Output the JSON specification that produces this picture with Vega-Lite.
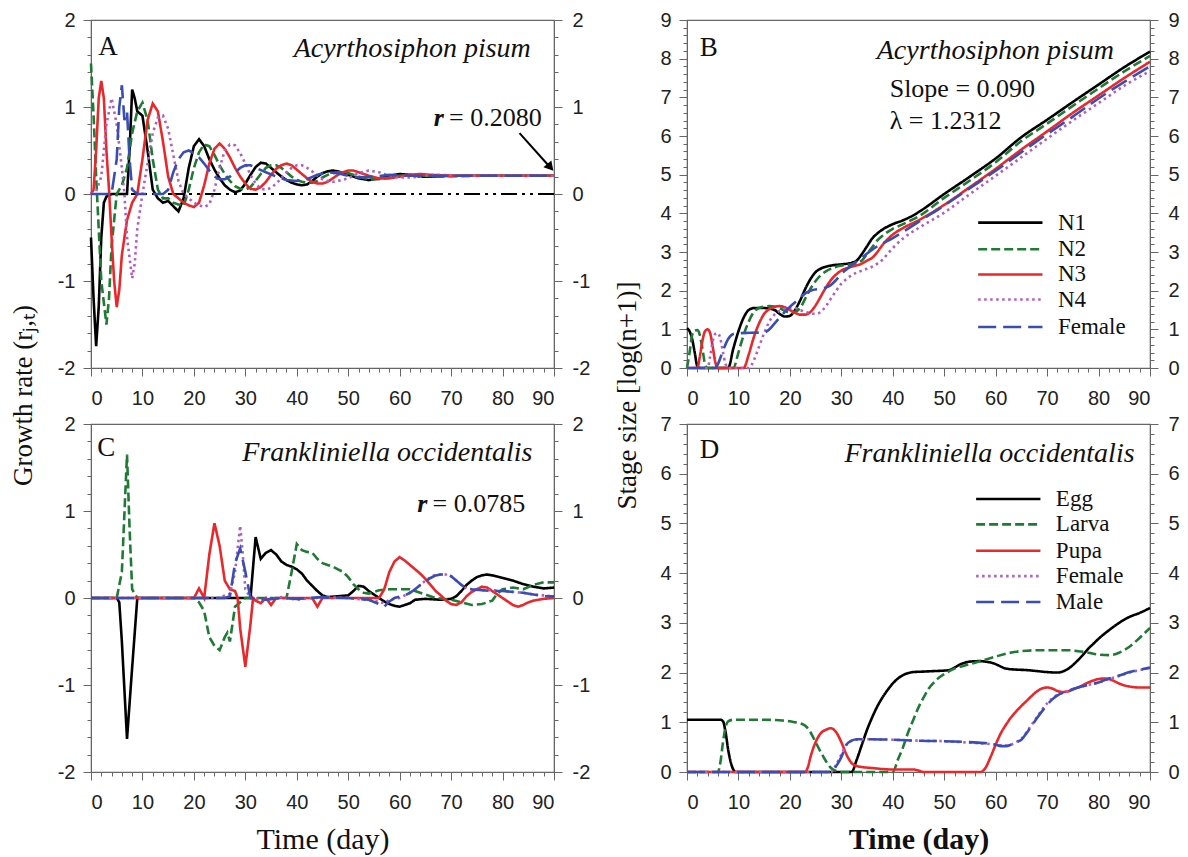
{
"$schema":"https://vega.github.io/schema/vega-lite/v6.json",
"background":"white",
"padding":{"left":8,"top":9,"right":5,"bottom":5},
"bounds":"flush",
"columns":2,
"spacing":{"row":56,"column":133},
"resolve":{"scale":{"color":"independent","strokeDash":"independent","strokeWidth":"independent"}},
"config":{
 "view":{"stroke":"#666","strokeWidth":1.2},
 "axis":{"grid":false,"domainColor":"#666","tickColor":"#666","labelColor":"#222","labelFont":"Liberation Sans","labelFontSize":20,"titleFont":"Liberation Serif","titleFontWeight":"normal","titleFontSize":28,"titleColor":"#111"}
},
"datasets":{
"legB":[{"s":"N1","v":3.76},{"s":"N2","v":3.07},{"s":"N3","v":2.42},{"s":"N4","v":1.77},{"s":"Female","v":1.06}],
"legD":[{"s":"Egg","v":5.49},{"s":"Larva","v":4.98},{"s":"Pupa","v":4.45},{"s":"Female","v":3.94},{"s":"Male","v":3.42}],
"A":[
{"s":"N1","t":0,"v":-0.5},{"s":"N1","t":0.5,"v":-1.2},{"s":"N1","t":1,"v":-1.75},{"s":"N1","t":1.5,"v":-1.3},{"s":"N1","t":2,"v":-0.5},{"s":"N1","t":2.5,"v":-0.1},{"s":"N1","t":3,"v":-0.03},{"s":"N1","t":4,"v":0},{"s":"N1","t":7,"v":0},{"s":"N1","t":7.5,"v":0.5},{"s":"N1","t":8,"v":1.2},{"s":"N1","t":8.5,"v":1.1},{"s":"N1","t":9,"v":0.95},{"s":"N1","t":10,"v":0.9},{"s":"N1","t":11,"v":0.5},{"s":"N1","t":12,"v":0.05},{"s":"N1","t":13,"v":-0.05},{"s":"N1","t":14,"v":-0.1},{"s":"N1","t":15,"v":-0.08},{"s":"N1","t":16,"v":-0.14},{"s":"N1","t":17,"v":-0.2},{"s":"N1","t":18,"v":-0.05},{"s":"N1","t":19,"v":0.3},{"s":"N1","t":20,"v":0.55},{"s":"N1","t":21,"v":0.63},{"s":"N1","t":22,"v":0.55},{"s":"N1","t":23,"v":0.4},{"s":"N1","t":24,"v":0.28},{"s":"N1","t":25,"v":0.18},{"s":"N1","t":26,"v":0.1},{"s":"N1","t":27,"v":0.05},{"s":"N1","t":28,"v":0.02},{"s":"N1","t":29,"v":0.04},{"s":"N1","t":30,"v":0.12},{"s":"N1","t":31,"v":0.22},{"s":"N1","t":32,"v":0.31},{"s":"N1","t":33,"v":0.36},{"s":"N1","t":34,"v":0.35},{"s":"N1","t":35,"v":0.3},{"s":"N1","t":36,"v":0.25},{"s":"N1","t":37,"v":0.2},{"s":"N1","t":38,"v":0.16},{"s":"N1","t":39,"v":0.13},{"s":"N1","t":40,"v":0.11},{"s":"N1","t":41,"v":0.1},{"s":"N1","t":42,"v":0.11},{"s":"N1","t":43,"v":0.15},{"s":"N1","t":44,"v":0.2},{"s":"N1","t":45,"v":0.24},{"s":"N1","t":46,"v":0.26},{"s":"N1","t":47,"v":0.27},{"s":"N1","t":48,"v":0.26},{"s":"N1","t":50,"v":0.22},{"s":"N1","t":52,"v":0.18},{"s":"N1","t":54,"v":0.16},{"s":"N1","t":56,"v":0.18},{"s":"N1","t":58,"v":0.21},{"s":"N1","t":60,"v":0.23},{"s":"N1","t":62,"v":0.22},{"s":"N1","t":64,"v":0.2},{"s":"N1","t":66,"v":0.2},{"s":"N1","t":70,"v":0.21},{"s":"N1","t":80,"v":0.21},{"s":"N1","t":90,"v":0.21},
{"s":"N2","t":0,"v":1.5},{"s":"N2","t":0.5,"v":0.9},{"s":"N2","t":1,"v":0.2},{"s":"N2","t":1.5,"v":-0.4},{"s":"N2","t":2,"v":-1.0},{"s":"N2","t":3,"v":-1.5},{"s":"N2","t":3.5,"v":-1.2},{"s":"N2","t":4,"v":-0.6},{"s":"N2","t":5,"v":0},{"s":"N2","t":6,"v":0.1},{"s":"N2","t":7,"v":0.3},{"s":"N2","t":8,"v":0.7},{"s":"N2","t":9,"v":0.95},{"s":"N2","t":10,"v":1.05},{"s":"N2","t":11,"v":0.85},{"s":"N2","t":12,"v":0.4},{"s":"N2","t":13,"v":0.05},{"s":"N2","t":14,"v":-0.05},{"s":"N2","t":15,"v":-0.05},{"s":"N2","t":16,"v":-0.1},{"s":"N2","t":17,"v":-0.12},{"s":"N2","t":18,"v":-0.14},{"s":"N2","t":19,"v":0.05},{"s":"N2","t":20,"v":0.3},{"s":"N2","t":21,"v":0.48},{"s":"N2","t":22,"v":0.57},{"s":"N2","t":23,"v":0.55},{"s":"N2","t":24,"v":0.45},{"s":"N2","t":25,"v":0.33},{"s":"N2","t":26,"v":0.23},{"s":"N2","t":27,"v":0.15},{"s":"N2","t":28,"v":0.09},{"s":"N2","t":29,"v":0.06},{"s":"N2","t":30,"v":0.05},{"s":"N2","t":31,"v":0.08},{"s":"N2","t":32,"v":0.15},{"s":"N2","t":33,"v":0.23},{"s":"N2","t":34,"v":0.3},{"s":"N2","t":35,"v":0.33},{"s":"N2","t":36,"v":0.33},{"s":"N2","t":37,"v":0.3},{"s":"N2","t":38,"v":0.25},{"s":"N2","t":39,"v":0.2},{"s":"N2","t":40,"v":0.16},{"s":"N2","t":41,"v":0.14},{"s":"N2","t":42,"v":0.13},{"s":"N2","t":43,"v":0.13},{"s":"N2","t":44,"v":0.15},{"s":"N2","t":45,"v":0.19},{"s":"N2","t":46,"v":0.22},{"s":"N2","t":47,"v":0.24},{"s":"N2","t":48,"v":0.25},{"s":"N2","t":49,"v":0.25},{"s":"N2","t":50,"v":0.24},{"s":"N2","t":52,"v":0.2},{"s":"N2","t":54,"v":0.17},{"s":"N2","t":56,"v":0.17},{"s":"N2","t":58,"v":0.19},{"s":"N2","t":60,"v":0.21},{"s":"N2","t":62,"v":0.22},{"s":"N2","t":64,"v":0.21},{"s":"N2","t":68,"v":0.2},{"s":"N2","t":75,"v":0.21},{"s":"N2","t":90,"v":0.21},
{"s":"N3","t":0,"v":0},{"s":"N3","t":0.5,"v":0.05},{"s":"N3","t":1,"v":0.5},{"s":"N3","t":1.5,"v":1.1},{"s":"N3","t":2,"v":1.3},{"s":"N3","t":2.5,"v":1.1},{"s":"N3","t":3,"v":0.5},{"s":"N3","t":3.5,"v":0.05},{"s":"N3","t":4,"v":-0.5},{"s":"N3","t":4.5,"v":-1.0},{"s":"N3","t":5,"v":-1.3},{"s":"N3","t":5.5,"v":-1.1},{"s":"N3","t":6,"v":-0.7},{"s":"N3","t":7,"v":-0.3},{"s":"N3","t":8,"v":-0.1},{"s":"N3","t":9,"v":0},{"s":"N3","t":10,"v":0.4},{"s":"N3","t":11,"v":0.85},{"s":"N3","t":12,"v":1.04},{"s":"N3","t":13,"v":0.95},{"s":"N3","t":14,"v":0.6},{"s":"N3","t":15,"v":0.2},{"s":"N3","t":16,"v":0},{"s":"N3","t":17,"v":-0.05},{"s":"N3","t":18,"v":-0.1},{"s":"N3","t":19,"v":-0.13},{"s":"N3","t":20,"v":-0.15},{"s":"N3","t":21,"v":-0.1},{"s":"N3","t":22,"v":0.1},{"s":"N3","t":23,"v":0.35},{"s":"N3","t":24,"v":0.52},{"s":"N3","t":25,"v":0.58},{"s":"N3","t":26,"v":0.52},{"s":"N3","t":27,"v":0.42},{"s":"N3","t":28,"v":0.3},{"s":"N3","t":29,"v":0.2},{"s":"N3","t":30,"v":0.12},{"s":"N3","t":31,"v":0.06},{"s":"N3","t":32,"v":0.05},{"s":"N3","t":33,"v":0.08},{"s":"N3","t":34,"v":0.14},{"s":"N3","t":35,"v":0.22},{"s":"N3","t":36,"v":0.29},{"s":"N3","t":37,"v":0.33},{"s":"N3","t":38,"v":0.35},{"s":"N3","t":39,"v":0.33},{"s":"N3","t":40,"v":0.28},{"s":"N3","t":41,"v":0.23},{"s":"N3","t":42,"v":0.18},{"s":"N3","t":43,"v":0.14},{"s":"N3","t":44,"v":0.12},{"s":"N3","t":45,"v":0.12},{"s":"N3","t":46,"v":0.14},{"s":"N3","t":47,"v":0.18},{"s":"N3","t":48,"v":0.22},{"s":"N3","t":49,"v":0.25},{"s":"N3","t":50,"v":0.27},{"s":"N3","t":51,"v":0.27},{"s":"N3","t":52,"v":0.25},{"s":"N3","t":54,"v":0.21},{"s":"N3","t":56,"v":0.18},{"s":"N3","t":58,"v":0.18},{"s":"N3","t":60,"v":0.2},{"s":"N3","t":62,"v":0.22},{"s":"N3","t":64,"v":0.23},{"s":"N3","t":66,"v":0.22},{"s":"N3","t":70,"v":0.21},{"s":"N3","t":90,"v":0.21},
{"s":"N4","t":0,"v":0},{"s":"N4","t":1,"v":0.03},{"s":"N4","t":2,"v":0.2},{"s":"N4","t":3,"v":0.8},{"s":"N4","t":4,"v":1.1},{"s":"N4","t":5,"v":0.8},{"s":"N4","t":6,"v":0.3},{"s":"N4","t":6.5,"v":0},{"s":"N4","t":7,"v":-0.5},{"s":"N4","t":8,"v":-0.97},{"s":"N4","t":8.5,"v":-0.8},{"s":"N4","t":9,"v":-0.4},{"s":"N4","t":10,"v":0},{"s":"N4","t":11,"v":0.35},{"s":"N4","t":12,"v":0.7},{"s":"N4","t":13,"v":0.88},{"s":"N4","t":14,"v":0.9},{"s":"N4","t":15,"v":0.75},{"s":"N4","t":16,"v":0.45},{"s":"N4","t":17,"v":0.15},{"s":"N4","t":18,"v":0},{"s":"N4","t":19,"v":-0.05},{"s":"N4","t":20,"v":-0.1},{"s":"N4","t":21,"v":-0.13},{"s":"N4","t":22,"v":-0.15},{"s":"N4","t":23,"v":-0.12},{"s":"N4","t":24,"v":0.05},{"s":"N4","t":25,"v":0.3},{"s":"N4","t":26,"v":0.5},{"s":"N4","t":27,"v":0.57},{"s":"N4","t":28,"v":0.56},{"s":"N4","t":29,"v":0.47},{"s":"N4","t":30,"v":0.35},{"s":"N4","t":31,"v":0.22},{"s":"N4","t":32,"v":0.12},{"s":"N4","t":33,"v":0.06},{"s":"N4","t":34,"v":0.05},{"s":"N4","t":35,"v":0.07},{"s":"N4","t":36,"v":0.12},{"s":"N4","t":37,"v":0.18},{"s":"N4","t":38,"v":0.25},{"s":"N4","t":39,"v":0.3},{"s":"N4","t":40,"v":0.33},{"s":"N4","t":41,"v":0.33},{"s":"N4","t":42,"v":0.3},{"s":"N4","t":43,"v":0.26},{"s":"N4","t":44,"v":0.21},{"s":"N4","t":45,"v":0.17},{"s":"N4","t":46,"v":0.15},{"s":"N4","t":47,"v":0.14},{"s":"N4","t":48,"v":0.15},{"s":"N4","t":50,"v":0.18},{"s":"N4","t":52,"v":0.24},{"s":"N4","t":54,"v":0.27},{"s":"N4","t":56,"v":0.25},{"s":"N4","t":58,"v":0.21},{"s":"N4","t":60,"v":0.19},{"s":"N4","t":62,"v":0.19},{"s":"N4","t":64,"v":0.2},{"s":"N4","t":66,"v":0.22},{"s":"N4","t":68,"v":0.22},{"s":"N4","t":72,"v":0.21},{"s":"N4","t":90,"v":0.21},
{"s":"Female","t":0,"v":0},{"s":"Female","t":4,"v":0},{"s":"Female","t":5,"v":0.4},{"s":"Female","t":5.5,"v":1.0},{"s":"Female","t":6,"v":1.25},{"s":"Female","t":6.5,"v":0.85},{"s":"Female","t":7,"v":0.95},{"s":"Female","t":7.5,"v":0.4},{"s":"Female","t":8,"v":0.05},{"s":"Female","t":9,"v":0},{"s":"Female","t":14,"v":0},{"s":"Female","t":15,"v":0.05},{"s":"Female","t":16,"v":0.25},{"s":"Female","t":17,"v":0.4},{"s":"Female","t":18,"v":0.48},{"s":"Female","t":19,"v":0.5},{"s":"Female","t":20,"v":0.47},{"s":"Female","t":21,"v":0.42},{"s":"Female","t":22,"v":0.35},{"s":"Female","t":23,"v":0.27},{"s":"Female","t":24,"v":0.2},{"s":"Female","t":25,"v":0.17},{"s":"Female","t":26,"v":0.17},{"s":"Female","t":27,"v":0.2},{"s":"Female","t":28,"v":0.25},{"s":"Female","t":29,"v":0.3},{"s":"Female","t":30,"v":0.33},{"s":"Female","t":31,"v":0.33},{"s":"Female","t":32,"v":0.3},{"s":"Female","t":34,"v":0.25},{"s":"Female","t":36,"v":0.2},{"s":"Female","t":38,"v":0.16},{"s":"Female","t":40,"v":0.15},{"s":"Female","t":42,"v":0.17},{"s":"Female","t":44,"v":0.22},{"s":"Female","t":46,"v":0.25},{"s":"Female","t":48,"v":0.24},{"s":"Female","t":50,"v":0.21},{"s":"Female","t":52,"v":0.19},{"s":"Female","t":55,"v":0.2},{"s":"Female","t":58,"v":0.22},{"s":"Female","t":62,"v":0.21},{"s":"Female","t":70,"v":0.21},{"s":"Female","t":90,"v":0.21}
],
"B":[
{"s":"N1","t":0,"v":1.03},{"s":"N1","t":0.5,"v":0.95},{"s":"N1","t":1,"v":0.75},{"s":"N1","t":1.5,"v":0.4},{"s":"N1","t":2,"v":0.05},{"s":"N1","t":2.5,"v":0},{"s":"N1","t":8,"v":0},{"s":"N1","t":9,"v":0.5},{"s":"N1","t":10,"v":0.95},{"s":"N1","t":11,"v":1.3},{"s":"N1","t":12,"v":1.5},{"s":"N1","t":13,"v":1.55},{"s":"N1","t":15,"v":1.55},{"s":"N1","t":17,"v":1.5},{"s":"N1","t":18,"v":1.4},{"s":"N1","t":19,"v":1.33},{"s":"N1","t":20,"v":1.35},{"s":"N1","t":21,"v":1.5},{"s":"N1","t":22,"v":1.75},{"s":"N1","t":23,"v":2.05},{"s":"N1","t":24,"v":2.3},{"s":"N1","t":25,"v":2.48},{"s":"N1","t":26,"v":2.57},{"s":"N1","t":28,"v":2.65},{"s":"N1","t":30,"v":2.68},{"s":"N1","t":32,"v":2.72},{"s":"N1","t":33,"v":2.78},{"s":"N1","t":34,"v":2.95},{"s":"N1","t":35,"v":3.15},{"s":"N1","t":36,"v":3.35},{"s":"N1","t":37,"v":3.48},{"s":"N1","t":38,"v":3.58},{"s":"N1","t":40,"v":3.72},{"s":"N1","t":42,"v":3.82},{"s":"N1","t":44,"v":3.95},{"s":"N1","t":45,"v":4.03},{"s":"N1","t":50,"v":4.5},{"s":"N1","t":55,"v":4.95},{"s":"N1","t":60,"v":5.42},{"s":"N1","t":65,"v":5.97},{"s":"N1","t":70,"v":6.42},{"s":"N1","t":75,"v":6.88},{"s":"N1","t":80,"v":7.33},{"s":"N1","t":85,"v":7.78},{"s":"N1","t":90,"v":8.18},
{"s":"N2","t":0,"v":0},{"s":"N2","t":0.5,"v":0.4},{"s":"N2","t":1,"v":0.85},{"s":"N2","t":1.5,"v":0.97},{"s":"N2","t":2,"v":0.98},{"s":"N2","t":2.5,"v":0.85},{"s":"N2","t":3,"v":0.5},{"s":"N2","t":3.5,"v":0.1},{"s":"N2","t":4,"v":0},{"s":"N2","t":9,"v":0},{"s":"N2","t":10,"v":0.4},{"s":"N2","t":11,"v":0.85},{"s":"N2","t":12,"v":1.2},{"s":"N2","t":13,"v":1.45},{"s":"N2","t":14,"v":1.55},{"s":"N2","t":16,"v":1.6},{"s":"N2","t":18,"v":1.55},{"s":"N2","t":19,"v":1.48},{"s":"N2","t":20,"v":1.43},{"s":"N2","t":21,"v":1.45},{"s":"N2","t":22,"v":1.55},{"s":"N2","t":23,"v":1.8},{"s":"N2","t":24,"v":2.05},{"s":"N2","t":25,"v":2.25},{"s":"N2","t":26,"v":2.4},{"s":"N2","t":27,"v":2.5},{"s":"N2","t":28,"v":2.57},{"s":"N2","t":30,"v":2.65},{"s":"N2","t":32,"v":2.68},{"s":"N2","t":34,"v":2.78},{"s":"N2","t":35,"v":2.95},{"s":"N2","t":36,"v":3.12},{"s":"N2","t":37,"v":3.3},{"s":"N2","t":38,"v":3.42},{"s":"N2","t":40,"v":3.6},{"s":"N2","t":42,"v":3.72},{"s":"N2","t":44,"v":3.85},{"s":"N2","t":45,"v":3.92},{"s":"N2","t":50,"v":4.4},{"s":"N2","t":55,"v":4.85},{"s":"N2","t":60,"v":5.32},{"s":"N2","t":65,"v":5.87},{"s":"N2","t":70,"v":6.32},{"s":"N2","t":75,"v":6.78},{"s":"N2","t":80,"v":7.23},{"s":"N2","t":85,"v":7.67},{"s":"N2","t":90,"v":8.07},
{"s":"N3","t":0,"v":0},{"s":"N3","t":2,"v":0},{"s":"N3","t":2.5,"v":0.3},{"s":"N3","t":3,"v":0.7},{"s":"N3","t":3.5,"v":0.95},{"s":"N3","t":4,"v":1.0},{"s":"N3","t":4.5,"v":0.9},{"s":"N3","t":5,"v":0.55},{"s":"N3","t":5.5,"v":0.15},{"s":"N3","t":6,"v":0},{"s":"N3","t":11,"v":0},{"s":"N3","t":12,"v":0.35},{"s":"N3","t":13,"v":0.8},{"s":"N3","t":14,"v":1.15},{"s":"N3","t":15,"v":1.4},{"s":"N3","t":16,"v":1.52},{"s":"N3","t":17,"v":1.58},{"s":"N3","t":18,"v":1.6},{"s":"N3","t":19,"v":1.57},{"s":"N3","t":20,"v":1.5},{"s":"N3","t":21,"v":1.43},{"s":"N3","t":22,"v":1.38},{"s":"N3","t":23,"v":1.38},{"s":"N3","t":24,"v":1.45},{"s":"N3","t":25,"v":1.62},{"s":"N3","t":26,"v":1.85},{"s":"N3","t":27,"v":2.08},{"s":"N3","t":28,"v":2.28},{"s":"N3","t":29,"v":2.42},{"s":"N3","t":30,"v":2.52},{"s":"N3","t":32,"v":2.62},{"s":"N3","t":34,"v":2.7},{"s":"N3","t":35,"v":2.78},{"s":"N3","t":36,"v":2.85},{"s":"N3","t":37,"v":3.0},{"s":"N3","t":38,"v":3.18},{"s":"N3","t":39,"v":3.33},{"s":"N3","t":40,"v":3.45},{"s":"N3","t":42,"v":3.62},{"s":"N3","t":45,"v":3.82},{"s":"N3","t":50,"v":4.22},{"s":"N3","t":55,"v":4.68},{"s":"N3","t":60,"v":5.15},{"s":"N3","t":65,"v":5.65},{"s":"N3","t":70,"v":6.12},{"s":"N3","t":75,"v":6.6},{"s":"N3","t":80,"v":7.05},{"s":"N3","t":85,"v":7.5},{"s":"N3","t":90,"v":7.92},
{"s":"N4","t":0,"v":0},{"s":"N4","t":4,"v":0},{"s":"N4","t":4.5,"v":0.3},{"s":"N4","t":5,"v":0.7},{"s":"N4","t":5.5,"v":0.88},{"s":"N4","t":6,"v":0.9},{"s":"N4","t":6.5,"v":0.75},{"s":"N4","t":7,"v":0.4},{"s":"N4","t":7.5,"v":0.1},{"s":"N4","t":8,"v":0},{"s":"N4","t":12,"v":0},{"s":"N4","t":13,"v":0.2},{"s":"N4","t":14,"v":0.55},{"s":"N4","t":15,"v":0.9},{"s":"N4","t":16,"v":1.2},{"s":"N4","t":17,"v":1.38},{"s":"N4","t":18,"v":1.48},{"s":"N4","t":19,"v":1.53},{"s":"N4","t":20,"v":1.55},{"s":"N4","t":21,"v":1.55},{"s":"N4","t":22,"v":1.5},{"s":"N4","t":23,"v":1.45},{"s":"N4","t":24,"v":1.42},{"s":"N4","t":25,"v":1.4},{"s":"N4","t":26,"v":1.45},{"s":"N4","t":27,"v":1.6},{"s":"N4","t":28,"v":1.8},{"s":"N4","t":29,"v":2.0},{"s":"N4","t":30,"v":2.18},{"s":"N4","t":31,"v":2.3},{"s":"N4","t":32,"v":2.4},{"s":"N4","t":34,"v":2.52},{"s":"N4","t":36,"v":2.62},{"s":"N4","t":37,"v":2.7},{"s":"N4","t":38,"v":2.8},{"s":"N4","t":39,"v":2.95},{"s":"N4","t":40,"v":3.1},{"s":"N4","t":42,"v":3.35},{"s":"N4","t":45,"v":3.62},{"s":"N4","t":50,"v":4.02},{"s":"N4","t":55,"v":4.5},{"s":"N4","t":60,"v":4.97},{"s":"N4","t":65,"v":5.45},{"s":"N4","t":70,"v":5.93},{"s":"N4","t":75,"v":6.4},{"s":"N4","t":80,"v":6.85},{"s":"N4","t":85,"v":7.3},{"s":"N4","t":90,"v":7.68},
{"s":"Female","t":0,"v":0},{"s":"Female","t":5.5,"v":0},{"s":"Female","t":6,"v":0.1},{"s":"Female","t":7,"v":0.45},{"s":"Female","t":8,"v":0.75},{"s":"Female","t":9,"v":0.88},{"s":"Female","t":10,"v":0.9},{"s":"Female","t":15,"v":0.92},{"s":"Female","t":16,"v":1.0},{"s":"Female","t":17,"v":1.15},{"s":"Female","t":18,"v":1.3},{"s":"Female","t":19,"v":1.45},{"s":"Female","t":20,"v":1.58},{"s":"Female","t":21,"v":1.7},{"s":"Female","t":22,"v":1.82},{"s":"Female","t":23,"v":1.93},{"s":"Female","t":24,"v":2.0},{"s":"Female","t":26,"v":2.05},{"s":"Female","t":27,"v":2.08},{"s":"Female","t":28,"v":2.15},{"s":"Female","t":29,"v":2.28},{"s":"Female","t":30,"v":2.43},{"s":"Female","t":31,"v":2.55},{"s":"Female","t":32,"v":2.66},{"s":"Female","t":33,"v":2.76},{"s":"Female","t":34,"v":2.86},{"s":"Female","t":35,"v":2.96},{"s":"Female","t":36,"v":3.06},{"s":"Female","t":38,"v":3.22},{"s":"Female","t":40,"v":3.36},{"s":"Female","t":42,"v":3.52},{"s":"Female","t":45,"v":3.78},{"s":"Female","t":50,"v":4.2},{"s":"Female","t":55,"v":4.65},{"s":"Female","t":60,"v":5.1},{"s":"Female","t":65,"v":5.58},{"s":"Female","t":70,"v":6.05},{"s":"Female","t":75,"v":6.5},{"s":"Female","t":80,"v":6.97},{"s":"Female","t":85,"v":7.4},{"s":"Female","t":90,"v":7.8}
],
"C":[
{"s":"Egg","t":0,"v":0},{"s":"Egg","t":5,"v":0},{"s":"Egg","t":5.5,"v":-0.05},{"s":"Egg","t":6,"v":-0.5},{"s":"Egg","t":7,"v":-1.62},{"s":"Egg","t":8,"v":-0.8},{"s":"Egg","t":9,"v":0},{"s":"Egg","t":31,"v":0},{"s":"Egg","t":32,"v":0.7},{"s":"Egg","t":33,"v":0.45},{"s":"Egg","t":34,"v":0.52},{"s":"Egg","t":35,"v":0.55},{"s":"Egg","t":36,"v":0.5},{"s":"Egg","t":37,"v":0.42},{"s":"Egg","t":38,"v":0.38},{"s":"Egg","t":39,"v":0.36},{"s":"Egg","t":40,"v":0.33},{"s":"Egg","t":41,"v":0.28},{"s":"Egg","t":42,"v":0.2},{"s":"Egg","t":43,"v":0.14},{"s":"Egg","t":44,"v":0.08},{"s":"Egg","t":45,"v":0.03},{"s":"Egg","t":46,"v":0.01},{"s":"Egg","t":48,"v":0.02},{"s":"Egg","t":50,"v":0.03},{"s":"Egg","t":51,"v":0.08},{"s":"Egg","t":52,"v":0.14},{"s":"Egg","t":53,"v":0.13},{"s":"Egg","t":54,"v":0.08},{"s":"Egg","t":55,"v":0.04},{"s":"Egg","t":56,"v":0},{"s":"Egg","t":57,"v":-0.04},{"s":"Egg","t":58,"v":-0.07},{"s":"Egg","t":59,"v":-0.09},{"s":"Egg","t":60,"v":-0.1},{"s":"Egg","t":61,"v":-0.08},{"s":"Egg","t":62,"v":-0.06},{"s":"Egg","t":63,"v":-0.02},{"s":"Egg","t":65,"v":-0.01},{"s":"Egg","t":68,"v":-0.02},{"s":"Egg","t":70,"v":-0.01},{"s":"Egg","t":71,"v":0.02},{"s":"Egg","t":72,"v":0.08},{"s":"Egg","t":73,"v":0.15},{"s":"Egg","t":74,"v":0.2},{"s":"Egg","t":75,"v":0.24},{"s":"Egg","t":76,"v":0.26},{"s":"Egg","t":77,"v":0.27},{"s":"Egg","t":78,"v":0.26},{"s":"Egg","t":80,"v":0.23},{"s":"Egg","t":82,"v":0.2},{"s":"Egg","t":84,"v":0.16},{"s":"Egg","t":86,"v":0.13},{"s":"Egg","t":88,"v":0.11},{"s":"Egg","t":90,"v":0.12},
{"s":"Larva","t":0,"v":0},{"s":"Larva","t":5,"v":0},{"s":"Larva","t":6,"v":0.3},{"s":"Larva","t":7,"v":1.65},{"s":"Larva","t":7.5,"v":0.8},{"s":"Larva","t":8,"v":0.1},{"s":"Larva","t":9,"v":0},{"s":"Larva","t":20,"v":0},{"s":"Larva","t":21,"v":-0.05},{"s":"Larva","t":22,"v":-0.15},{"s":"Larva","t":23,"v":-0.45},{"s":"Larva","t":24,"v":-0.55},{"s":"Larva","t":25,"v":-0.6},{"s":"Larva","t":26,"v":-0.45},{"s":"Larva","t":26.5,"v":-0.4},{"s":"Larva","t":27,"v":-0.5},{"s":"Larva","t":28,"v":-0.1},{"s":"Larva","t":29,"v":-0.05},{"s":"Larva","t":30,"v":0},{"s":"Larva","t":38,"v":0},{"s":"Larva","t":39,"v":0.3},{"s":"Larva","t":40,"v":0.62},{"s":"Larva","t":41,"v":0.55},{"s":"Larva","t":42,"v":0.53},{"s":"Larva","t":43,"v":0.52},{"s":"Larva","t":44,"v":0.45},{"s":"Larva","t":45,"v":0.4},{"s":"Larva","t":46,"v":0.38},{"s":"Larva","t":47,"v":0.36},{"s":"Larva","t":48,"v":0.33},{"s":"Larva","t":49,"v":0.3},{"s":"Larva","t":50,"v":0.24},{"s":"Larva","t":51,"v":0.16},{"s":"Larva","t":52,"v":0.1},{"s":"Larva","t":53,"v":0.06},{"s":"Larva","t":54,"v":0.05},{"s":"Larva","t":55,"v":0.07},{"s":"Larva","t":56,"v":0.09},{"s":"Larva","t":58,"v":0.1},{"s":"Larva","t":60,"v":0.1},{"s":"Larva","t":62,"v":0.1},{"s":"Larva","t":63,"v":0.08},{"s":"Larva","t":65,"v":0.04},{"s":"Larva","t":67,"v":0},{"s":"Larva","t":70,"v":-0.02},{"s":"Larva","t":72,"v":-0.05},{"s":"Larva","t":74,"v":-0.08},{"s":"Larva","t":76,"v":-0.07},{"s":"Larva","t":78,"v":-0.03},{"s":"Larva","t":79,"v":0.05},{"s":"Larva","t":80,"v":0.1},{"s":"Larva","t":82,"v":0.12},{"s":"Larva","t":84,"v":0.1},{"s":"Larva","t":86,"v":0.15},{"s":"Larva","t":88,"v":0.18},{"s":"Larva","t":90,"v":0.18},
{"s":"Pupa","t":0,"v":0},{"s":"Pupa","t":20,"v":0},{"s":"Pupa","t":21,"v":0.11},{"s":"Pupa","t":22,"v":0},{"s":"Pupa","t":23,"v":0.5},{"s":"Pupa","t":24,"v":0.86},{"s":"Pupa","t":25,"v":0.6},{"s":"Pupa","t":26,"v":0.2},{"s":"Pupa","t":27,"v":0.1},{"s":"Pupa","t":28,"v":0.08},{"s":"Pupa","t":28.5,"v":0},{"s":"Pupa","t":29,"v":-0.35},{"s":"Pupa","t":30,"v":-0.79},{"s":"Pupa","t":31,"v":-0.3},{"s":"Pupa","t":31.5,"v":0},{"s":"Pupa","t":32,"v":-0.03},{"s":"Pupa","t":33,"v":-0.06},{"s":"Pupa","t":34,"v":0},{"s":"Pupa","t":35,"v":-0.08},{"s":"Pupa","t":36,"v":0},{"s":"Pupa","t":43,"v":0},{"s":"Pupa","t":44,"v":-0.1},{"s":"Pupa","t":45,"v":0},{"s":"Pupa","t":56,"v":0},{"s":"Pupa","t":57,"v":0.1},{"s":"Pupa","t":58,"v":0.3},{"s":"Pupa","t":59,"v":0.42},{"s":"Pupa","t":60,"v":0.47},{"s":"Pupa","t":61,"v":0.43},{"s":"Pupa","t":62,"v":0.38},{"s":"Pupa","t":63,"v":0.33},{"s":"Pupa","t":64,"v":0.28},{"s":"Pupa","t":65,"v":0.22},{"s":"Pupa","t":66,"v":0.15},{"s":"Pupa","t":67,"v":0.08},{"s":"Pupa","t":68,"v":0.03},{"s":"Pupa","t":69,"v":-0.03},{"s":"Pupa","t":70,"v":-0.07},{"s":"Pupa","t":71,"v":-0.08},{"s":"Pupa","t":72,"v":-0.05},{"s":"Pupa","t":73,"v":0.02},{"s":"Pupa","t":74,"v":0.07},{"s":"Pupa","t":75,"v":0.1},{"s":"Pupa","t":76,"v":0.13},{"s":"Pupa","t":77,"v":0.12},{"s":"Pupa","t":78,"v":0.08},{"s":"Pupa","t":79,"v":0.04},{"s":"Pupa","t":80,"v":0},{"s":"Pupa","t":81,"v":-0.04},{"s":"Pupa","t":82,"v":-0.08},{"s":"Pupa","t":83,"v":-0.1},{"s":"Pupa","t":84,"v":-0.08},{"s":"Pupa","t":85,"v":-0.05},{"s":"Pupa","t":86,"v":-0.03},{"s":"Pupa","t":88,"v":-0.01},{"s":"Pupa","t":90,"v":0},
{"s":"Female","t":0,"v":0},{"s":"Female","t":25,"v":0},{"s":"Female","t":26,"v":0.03},{"s":"Female","t":27,"v":0.05},{"s":"Female","t":28,"v":0.3},{"s":"Female","t":29,"v":0.83},{"s":"Female","t":29.5,"v":0.5},{"s":"Female","t":30,"v":0.1},{"s":"Female","t":31,"v":0},{"s":"Female","t":34,"v":-0.02},{"s":"Female","t":37,"v":0.01},{"s":"Female","t":40,"v":-0.02},{"s":"Female","t":45,"v":0.01},{"s":"Female","t":50,"v":0},{"s":"Female","t":55,"v":-0.03},{"s":"Female","t":57,"v":-0.06},{"s":"Female","t":58,"v":-0.02},{"s":"Female","t":60,"v":0},{"s":"Female","t":61,"v":0.03},{"s":"Female","t":62,"v":0.06},{"s":"Female","t":63,"v":0.1},{"s":"Female","t":64,"v":0.15},{"s":"Female","t":65,"v":0.2},{"s":"Female","t":66,"v":0.24},{"s":"Female","t":67,"v":0.27},{"s":"Female","t":69,"v":0.27},{"s":"Female","t":70,"v":0.25},{"s":"Female","t":71,"v":0.2},{"s":"Female","t":72,"v":0.15},{"s":"Female","t":73,"v":0.11},{"s":"Female","t":74,"v":0.1},{"s":"Female","t":76,"v":0.09},{"s":"Female","t":78,"v":0.09},{"s":"Female","t":80,"v":0.08},{"s":"Female","t":82,"v":0.07},{"s":"Female","t":84,"v":0.06},{"s":"Female","t":86,"v":0.04},{"s":"Female","t":88,"v":0.03},{"s":"Female","t":90,"v":0.02},
{"s":"Male","t":0,"v":0},{"s":"Male","t":26,"v":0},{"s":"Male","t":27,"v":0.02},{"s":"Male","t":28,"v":0.4},{"s":"Male","t":29,"v":0.57},{"s":"Male","t":30,"v":0.3},{"s":"Male","t":31,"v":0},{"s":"Male","t":34,"v":-0.02},{"s":"Male","t":37,"v":0},{"s":"Male","t":40,"v":-0.01},{"s":"Male","t":45,"v":0.01},{"s":"Male","t":50,"v":0},{"s":"Male","t":54,"v":-0.02},{"s":"Male","t":56,"v":-0.07},{"s":"Male","t":57,"v":-0.1},{"s":"Male","t":58,"v":-0.04},{"s":"Male","t":59,"v":0},{"s":"Male","t":61,"v":0.03},{"s":"Male","t":62,"v":0.06},{"s":"Male","t":63,"v":0.1},{"s":"Male","t":64,"v":0.15},{"s":"Male","t":65,"v":0.19},{"s":"Male","t":66,"v":0.23},{"s":"Male","t":67,"v":0.26},{"s":"Male","t":68,"v":0.27},{"s":"Male","t":69,"v":0.27},{"s":"Male","t":70,"v":0.25},{"s":"Male","t":71,"v":0.2},{"s":"Male","t":72,"v":0.15},{"s":"Male","t":73,"v":0.11},{"s":"Male","t":74,"v":0.1},{"s":"Male","t":76,"v":0.09},{"s":"Male","t":78,"v":0.08},{"s":"Male","t":80,"v":0.08},{"s":"Male","t":82,"v":0.07},{"s":"Male","t":84,"v":0.06},{"s":"Male","t":86,"v":0.04},{"s":"Male","t":88,"v":0.02},{"s":"Male","t":90,"v":0.02}
],
"D":[
{"s":"Egg","t":0,"v":1.05},{"s":"Egg","t":6.5,"v":1.05},{"s":"Egg","t":7,"v":1.02},{"s":"Egg","t":7.5,"v":0.8},{"s":"Egg","t":8,"v":0.45},{"s":"Egg","t":8.5,"v":0.2},{"s":"Egg","t":9,"v":0.05},{"s":"Egg","t":9.5,"v":0},{"s":"Egg","t":32,"v":0},{"s":"Egg","t":33,"v":0.25},{"s":"Egg","t":34,"v":0.55},{"s":"Egg","t":35,"v":0.85},{"s":"Egg","t":36,"v":1.1},{"s":"Egg","t":37,"v":1.32},{"s":"Egg","t":38,"v":1.5},{"s":"Egg","t":39,"v":1.65},{"s":"Egg","t":40,"v":1.78},{"s":"Egg","t":41,"v":1.88},{"s":"Egg","t":42,"v":1.95},{"s":"Egg","t":43,"v":1.99},{"s":"Egg","t":44,"v":2.01},{"s":"Egg","t":46,"v":2.02},{"s":"Egg","t":48,"v":2.03},{"s":"Egg","t":50,"v":2.04},{"s":"Egg","t":51,"v":2.05},{"s":"Egg","t":52,"v":2.1},{"s":"Egg","t":53,"v":2.16},{"s":"Egg","t":54,"v":2.2},{"s":"Egg","t":55,"v":2.22},{"s":"Egg","t":57,"v":2.23},{"s":"Egg","t":58,"v":2.22},{"s":"Egg","t":60,"v":2.17},{"s":"Egg","t":61,"v":2.12},{"s":"Egg","t":62,"v":2.08},{"s":"Egg","t":64,"v":2.06},{"s":"Egg","t":66,"v":2.05},{"s":"Egg","t":68,"v":2.03},{"s":"Egg","t":70,"v":2.01},{"s":"Egg","t":72,"v":2.0},{"s":"Egg","t":73,"v":2.02},{"s":"Egg","t":74,"v":2.07},{"s":"Egg","t":75,"v":2.15},{"s":"Egg","t":76,"v":2.25},{"s":"Egg","t":77,"v":2.36},{"s":"Egg","t":78,"v":2.48},{"s":"Egg","t":79,"v":2.58},{"s":"Egg","t":80,"v":2.68},{"s":"Egg","t":82,"v":2.85},{"s":"Egg","t":84,"v":3.0},{"s":"Egg","t":86,"v":3.12},{"s":"Egg","t":88,"v":3.2},{"s":"Egg","t":90,"v":3.3},
{"s":"Larva","t":0,"v":0},{"s":"Larva","t":6,"v":0},{"s":"Larva","t":6.5,"v":0.2},{"s":"Larva","t":7,"v":0.6},{"s":"Larva","t":7.5,"v":0.9},{"s":"Larva","t":8,"v":1.02},{"s":"Larva","t":9,"v":1.05},{"s":"Larva","t":15,"v":1.05},{"s":"Larva","t":18,"v":1.04},{"s":"Larva","t":20,"v":1.02},{"s":"Larva","t":21,"v":1.0},{"s":"Larva","t":22,"v":0.98},{"s":"Larva","t":23,"v":0.93},{"s":"Larva","t":24,"v":0.8},{"s":"Larva","t":25,"v":0.6},{"s":"Larva","t":26,"v":0.4},{"s":"Larva","t":27,"v":0.22},{"s":"Larva","t":28,"v":0.08},{"s":"Larva","t":29,"v":0.02},{"s":"Larva","t":30,"v":0},{"s":"Larva","t":40,"v":0},{"s":"Larva","t":41,"v":0.25},{"s":"Larva","t":42,"v":0.5},{"s":"Larva","t":43,"v":0.8},{"s":"Larva","t":44,"v":1.05},{"s":"Larva","t":45,"v":1.3},{"s":"Larva","t":46,"v":1.5},{"s":"Larva","t":47,"v":1.68},{"s":"Larva","t":48,"v":1.8},{"s":"Larva","t":49,"v":1.9},{"s":"Larva","t":50,"v":1.97},{"s":"Larva","t":51,"v":2.03},{"s":"Larva","t":52,"v":2.08},{"s":"Larva","t":54,"v":2.14},{"s":"Larva","t":56,"v":2.2},{"s":"Larva","t":58,"v":2.26},{"s":"Larva","t":60,"v":2.32},{"s":"Larva","t":62,"v":2.38},{"s":"Larva","t":64,"v":2.42},{"s":"Larva","t":66,"v":2.44},{"s":"Larva","t":68,"v":2.45},{"s":"Larva","t":74,"v":2.45},{"s":"Larva","t":76,"v":2.43},{"s":"Larva","t":78,"v":2.4},{"s":"Larva","t":80,"v":2.36},{"s":"Larva","t":82,"v":2.35},{"s":"Larva","t":84,"v":2.4},{"s":"Larva","t":86,"v":2.52},{"s":"Larva","t":88,"v":2.7},{"s":"Larva","t":90,"v":2.9},
{"s":"Pupa","t":0,"v":0},{"s":"Pupa","t":23,"v":0},{"s":"Pupa","t":23.5,"v":0.1},{"s":"Pupa","t":24,"v":0.3},{"s":"Pupa","t":25,"v":0.6},{"s":"Pupa","t":26,"v":0.78},{"s":"Pupa","t":27,"v":0.85},{"s":"Pupa","t":28,"v":0.88},{"s":"Pupa","t":29,"v":0.8},{"s":"Pupa","t":30,"v":0.6},{"s":"Pupa","t":31,"v":0.35},{"s":"Pupa","t":32,"v":0.18},{"s":"Pupa","t":33,"v":0.12},{"s":"Pupa","t":34,"v":0.1},{"s":"Pupa","t":36,"v":0.08},{"s":"Pupa","t":38,"v":0.06},{"s":"Pupa","t":40,"v":0.05},{"s":"Pupa","t":44,"v":0.05},{"s":"Pupa","t":45,"v":0.03},{"s":"Pupa","t":46,"v":0},{"s":"Pupa","t":57,"v":0},{"s":"Pupa","t":58,"v":0.08},{"s":"Pupa","t":59,"v":0.3},{"s":"Pupa","t":60,"v":0.55},{"s":"Pupa","t":61,"v":0.78},{"s":"Pupa","t":62,"v":0.95},{"s":"Pupa","t":63,"v":1.1},{"s":"Pupa","t":64,"v":1.22},{"s":"Pupa","t":65,"v":1.33},{"s":"Pupa","t":66,"v":1.43},{"s":"Pupa","t":67,"v":1.53},{"s":"Pupa","t":68,"v":1.62},{"s":"Pupa","t":69,"v":1.68},{"s":"Pupa","t":70,"v":1.7},{"s":"Pupa","t":71,"v":1.68},{"s":"Pupa","t":72,"v":1.63},{"s":"Pupa","t":73,"v":1.61},{"s":"Pupa","t":74,"v":1.62},{"s":"Pupa","t":75,"v":1.66},{"s":"Pupa","t":76,"v":1.7},{"s":"Pupa","t":78,"v":1.8},{"s":"Pupa","t":80,"v":1.87},{"s":"Pupa","t":81,"v":1.88},{"s":"Pupa","t":82,"v":1.87},{"s":"Pupa","t":83,"v":1.83},{"s":"Pupa","t":84,"v":1.78},{"s":"Pupa","t":86,"v":1.72},{"s":"Pupa","t":88,"v":1.7},{"s":"Pupa","t":90,"v":1.7},
{"s":"Female","t":0,"v":0},{"s":"Female","t":28,"v":0},{"s":"Female","t":29,"v":0.15},{"s":"Female","t":30,"v":0.35},{"s":"Female","t":31,"v":0.55},{"s":"Female","t":32,"v":0.63},{"s":"Female","t":33,"v":0.65},{"s":"Female","t":35,"v":0.66},{"s":"Female","t":40,"v":0.65},{"s":"Female","t":45,"v":0.63},{"s":"Female","t":50,"v":0.62},{"s":"Female","t":55,"v":0.59},{"s":"Female","t":58,"v":0.57},{"s":"Female","t":60,"v":0.55},{"s":"Female","t":62,"v":0.53},{"s":"Female","t":63,"v":0.55},{"s":"Female","t":64,"v":0.6},{"s":"Female","t":65,"v":0.67},{"s":"Female","t":66,"v":0.8},{"s":"Female","t":67,"v":0.95},{"s":"Female","t":68,"v":1.1},{"s":"Female","t":69,"v":1.25},{"s":"Female","t":70,"v":1.38},{"s":"Female","t":71,"v":1.48},{"s":"Female","t":72,"v":1.55},{"s":"Female","t":74,"v":1.63},{"s":"Female","t":76,"v":1.7},{"s":"Female","t":78,"v":1.75},{"s":"Female","t":80,"v":1.8},{"s":"Female","t":82,"v":1.87},{"s":"Female","t":84,"v":1.93},{"s":"Female","t":86,"v":2.0},{"s":"Female","t":88,"v":2.05},{"s":"Female","t":90,"v":2.1},
{"s":"Male","t":0,"v":0},{"s":"Male","t":28,"v":0},{"s":"Male","t":29,"v":0.12},{"s":"Male","t":30,"v":0.3},{"s":"Male","t":31,"v":0.55},{"s":"Male","t":32,"v":0.63},{"s":"Male","t":33,"v":0.66},{"s":"Male","t":35,"v":0.66},{"s":"Male","t":40,"v":0.65},{"s":"Male","t":45,"v":0.63},{"s":"Male","t":50,"v":0.62},{"s":"Male","t":55,"v":0.6},{"s":"Male","t":58,"v":0.58},{"s":"Male","t":60,"v":0.55},{"s":"Male","t":61,"v":0.52},{"s":"Male","t":62,"v":0.52},{"s":"Male","t":63,"v":0.55},{"s":"Male","t":64,"v":0.6},{"s":"Male","t":65,"v":0.65},{"s":"Male","t":66,"v":0.78},{"s":"Male","t":67,"v":0.93},{"s":"Male","t":68,"v":1.08},{"s":"Male","t":69,"v":1.22},{"s":"Male","t":70,"v":1.35},{"s":"Male","t":71,"v":1.46},{"s":"Male","t":72,"v":1.54},{"s":"Male","t":74,"v":1.63},{"s":"Male","t":76,"v":1.7},{"s":"Male","t":78,"v":1.75},{"s":"Male","t":80,"v":1.8},{"s":"Male","t":82,"v":1.88},{"s":"Male","t":84,"v":1.94},{"s":"Male","t":86,"v":2.01},{"s":"Male","t":88,"v":2.06},{"s":"Male","t":90,"v":2.1}
]
},
"concat":[
{
 "width":463,"height":348,
 "layer":[
  {"data":{"values":[{"z":0}]},"mark":{"type":"rule","color":"#000","strokeWidth":1.8,"strokeDash":[16,5,3,5,3,5]},"encoding":{"y":{"field":"z","type":"quantitative","scale":{"domain":[-2,2],"nice":false},"axis":null}}},
  {"data":{"name":"A"},"mark":{"type":"line","interpolate":"linear"},
   "encoding":{
    "x":{"field":"t","type":"quantitative","scale":{"domain":[0,90],"nice":false},"axis":{"orient":"bottom","values":[0,10,20,30,40,50,60,70,80,90],"tickSize":8,"labelPadding":12,"title":null,"labelExpr":"toString(datum.value)"}},
    "y":{"field":"v","type":"quantitative","scale":{"domain":[-2,2],"nice":false},"axis":{"orient":"left","values":[-2,-1,0,1,2],"tickSize":8,"labelPadding":8,"labelExpr":"toString(datum.value)","title":"Growth rate (rⱼ,ₜ)","titleX":-54,"titleY":375,"titleFontSize":27}},
    "color":{"field":"s","type":"nominal","scale":{"domain":["N1","N2","N3","N4","Female"],"range":["#000000","#1f7a34","#e8282b","#b05fc0","#3a4db5"]},"legend":null},
    "strokeDash":{"field":"s","type":"nominal","scale":{"domain":["N1","N2","N3","N4","Female"],"range":[[1,0],[9,4],[1,0],[2.5,3.5],[18,7]]},"legend":null},
    "strokeWidth":{"field":"s","type":"ordinal","scale":{"domain":["N1","N2","N3","N4","Female"],"range":[2.6,2.6,2.6,3.6,2.6]},"legend":null}
   }},
  {"data":{"values":[{"t":0,"v":0}]},"mark":{"type":"point","opacity":0},
   "encoding":{
    "x":{"field":"t","type":"quantitative","axis":{"orient":"bottom","values":[0,2,4,6,8,10,12,14,16,18,20,22,24,26,28,30,32,34,36,38,40,42,44,46,48,50,52,54,56,58,60,62,64,66,68,70,72,74,76,78,80,82,84,86,88,90],"tickSize":4,"labels":false,"domain":false,"title":null}},
    "y":{"field":"v","type":"quantitative","axis":{"orient":"left","values":[-2,-1.8,-1.6,-1.4,-1.2,-1,-0.8,-0.6,-0.4,-0.2,0,0.2,0.4,0.6,0.8,1,1.2,1.4,1.6,1.8,2],"tickSize":4,"labels":false,"domain":false,"title":null}}}},
  {"data":{"values":[{"t":0,"v":0}]},"mark":{"type":"point","opacity":0},
   "encoding":{"x":{"field":"t","type":"quantitative","axis":null},
    "y":{"field":"v","type":"quantitative","axis":{"orient":"right","values":[-2,-1,0,1,2],"tickSize":8,"labelPadding":10,"labelExpr":"toString(datum.value)","title":null}}}},
  {"data":{"values":[{"t":0,"v":0}]},"mark":{"type":"point","opacity":0},
   "encoding":{"x":{"field":"t","type":"quantitative","axis":null},
    "y":{"field":"v","type":"quantitative","axis":{"orient":"right","values":[-2,-1.8,-1.6,-1.4,-1.2,-1,-0.8,-0.6,-0.4,-0.2,0,0.2,0.4,0.6,0.8,1,1.2,1.4,1.6,1.8,2],"tickSize":4,"labels":false,"domain":false,"title":null}}}},
  {"data":{"values":[{"t":1.4,"v":1.6,"label":"A"}]},"mark":{"type":"text","font":"Liberation Serif","fontSize":27,"align":"left","baseline":"alphabetic","color":"#111"},
   "encoding":{"x":{"field":"t","type":"quantitative","axis":null},"y":{"field":"v","type":"quantitative","axis":null},"text":{"field":"label"}}},
  {"data":{"values":[{"t":85.5,"v":1.57,"label":"Acyrthosiphon pisum"}]},"mark":{"type":"text","font":"Liberation Serif","fontSize":28,"fontStyle":"italic","align":"right","baseline":"alphabetic","color":"#111"},
   "encoding":{"x":{"field":"t","type":"quantitative","axis":null},"y":{"field":"v","type":"quantitative","axis":null},"text":{"field":"label"}}},
  {"data":{"values":[{"t":68.6,"v":0.78,"label":"r"}]},"mark":{"type":"text","font":"Liberation Serif","fontSize":26,"fontStyle":"italic","fontWeight":"bold","align":"right","baseline":"alphabetic","color":"#111"},
   "encoding":{"x":{"field":"t","type":"quantitative","axis":null},"y":{"field":"v","type":"quantitative","axis":null},"text":{"field":"label"}}},
  {"data":{"values":[{"t":69.6,"v":0.78,"label":"= 0.2080"}]},"mark":{"type":"text","font":"Liberation Serif","fontSize":26,"align":"left","baseline":"alphabetic","color":"#111"},
   "encoding":{"x":{"field":"t","type":"quantitative","axis":null},"y":{"field":"v","type":"quantitative","axis":null},"text":{"field":"label"}}},
  {"data":{"values":[{"t":83.3,"v":0.7,"t2":89.2,"v2":0.31}]},"mark":{"type":"rule","color":"#000","strokeWidth":2},
   "encoding":{"x":{"field":"t","type":"quantitative","axis":null},"y":{"field":"v","type":"quantitative","axis":null},"x2":{"field":"t2"},"y2":{"field":"v2"}}},
  {"data":{"values":[{"t":89.1,"v":0.32}]},"mark":{"type":"point","shape":"triangle","angle":139,"size":110,"filled":true,"color":"#000","opacity":1},
   "encoding":{"x":{"field":"t","type":"quantitative","axis":null},"y":{"field":"v","type":"quantitative","axis":null}}}
 ],
 "resolve":{"axis":{"x":"independent","y":"independent"}}
},
{
 "width":463,"height":348,
 "layer":[
  {"data":{"name":"B"},"mark":{"type":"line","interpolate":"monotone"},
   "encoding":{
    "x":{"field":"t","type":"quantitative","scale":{"domain":[0,90],"nice":false},"axis":{"orient":"bottom","values":[0,10,20,30,40,50,60,70,80,90],"tickSize":8,"labelPadding":12,"title":null,"labelExpr":"toString(datum.value)"}},
    "y":{"field":"v","type":"quantitative","scale":{"domain":[0,9],"nice":false},"axis":{"orient":"left","values":[0,1,2,3,4,5,6,7,8,9],"tickSize":8,"labelPadding":8,"labelExpr":"toString(datum.value)","title":"Stage size [log(n+1)]","titleX":-46,"titleY":375,"titleFontSize":27}},
    "color":{"field":"s","type":"nominal","scale":{"domain":["N1","N2","N3","N4","Female"],"range":["#000000","#1f7a34","#e8282b","#b05fc0","#3a4db5"]},"legend":null},
    "strokeDash":{"field":"s","type":"nominal","scale":{"domain":["N1","N2","N3","N4","Female"],"range":[[1,0],[9,4],[1,0],[2.5,3.5],[18,7]]},"legend":null},
    "strokeWidth":{"field":"s","type":"ordinal","scale":{"domain":["N1","N2","N3","N4","Female"],"range":[2.6,2.6,2.6,3.6,2.6]},"legend":null}
   }},
  {"data":{"name":"legB"},"mark":{"type":"rule"},
   "encoding":{
    "x":{"datum":56.6,"type":"quantitative","axis":null},"x2":{"datum":69.1},
    "y":{"field":"v","type":"quantitative","axis":null},
    "color":{"field":"s","type":"nominal","legend":null},
    "strokeDash":{"field":"s","type":"nominal","legend":null},
    "strokeWidth":{"field":"s","type":"ordinal","legend":null}
   }},
  {"data":{"name":"legB"},"mark":{"type":"text","font":"Liberation Serif","fontSize":23,"align":"left","baseline":"middle","color":"#111"},
   "encoding":{"x":{"datum":72.1,"type":"quantitative","axis":null},"y":{"field":"v","type":"quantitative","axis":null},"text":{"field":"s"}}},
  {"data":{"values":[{"t":0,"v":0}]},"mark":{"type":"point","opacity":0},
   "encoding":{
    "x":{"field":"t","type":"quantitative","axis":{"orient":"bottom","values":[0,2,4,6,8,10,12,14,16,18,20,22,24,26,28,30,32,34,36,38,40,42,44,46,48,50,52,54,56,58,60,62,64,66,68,70,72,74,76,78,80,82,84,86,88,90],"tickSize":4,"labels":false,"domain":false,"title":null}},
    "y":{"field":"v","type":"quantitative","axis":{"orient":"left","values":[0,0.2,0.4,0.6,0.8,1,1.2,1.4,1.6,1.8,2,2.2,2.4,2.6,2.8,3,3.2,3.4,3.6,3.8,4,4.2,4.4,4.6,4.8,5,5.2,5.4,5.6,5.8,6,6.2,6.4,6.6,6.8,7,7.2,7.4,7.6,7.8,8,8.2,8.4,8.6,8.8,9],"tickSize":4,"labels":false,"domain":false,"title":null}}}},
  {"data":{"values":[{"t":0,"v":0}]},"mark":{"type":"point","opacity":0},
   "encoding":{"x":{"field":"t","type":"quantitative","axis":null},
    "y":{"field":"v","type":"quantitative","axis":{"orient":"right","values":[0,1,2,3,4,5,6,7,8,9],"tickSize":8,"labelPadding":10,"labelExpr":"toString(datum.value)","title":null}}}},
  {"data":{"values":[{"t":0,"v":0}]},"mark":{"type":"point","opacity":0},
   "encoding":{"x":{"field":"t","type":"quantitative","axis":null},
    "y":{"field":"v","type":"quantitative","axis":{"orient":"right","values":[0,0.2,0.4,0.6,0.8,1,1.2,1.4,1.6,1.8,2,2.2,2.4,2.6,2.8,3,3.2,3.4,3.6,3.8,4,4.2,4.4,4.6,4.8,5,5.2,5.4,5.6,5.8,6,6.2,6.4,6.6,6.8,7,7.2,7.4,7.6,7.8,8,8.2,8.4,8.6,8.8,9],"tickSize":4,"labels":false,"domain":false,"title":null}}}},
  {"data":{"values":[{"t":2.5,"v":8.08,"label":"B"}]},"mark":{"type":"text","font":"Liberation Serif","fontSize":27,"align":"left","baseline":"alphabetic","color":"#111"},
   "encoding":{"x":{"field":"t","type":"quantitative","axis":null},"y":{"field":"v","type":"quantitative","axis":null},"text":{"field":"label"}}},
  {"data":{"values":[{"t":83,"v":7.98,"label":"Acyrthosiphon pisum"}]},"mark":{"type":"text","font":"Liberation Serif","fontSize":28,"fontStyle":"italic","align":"right","baseline":"alphabetic","color":"#111"},
   "encoding":{"x":{"field":"t","type":"quantitative","axis":null},"y":{"field":"v","type":"quantitative","axis":null},"text":{"field":"label"}}},
  {"data":{"values":[{"t":39.4,"v":7.0,"label":"Slope = 0.090"},{"t":39.4,"v":6.17,"label":"λ = 1.2312"}]},"mark":{"type":"text","font":"Liberation Serif","fontSize":26,"align":"left","baseline":"alphabetic","color":"#111"},
   "encoding":{"x":{"field":"t","type":"quantitative","axis":null},"y":{"field":"v","type":"quantitative","axis":null},"text":{"field":"label"}}}
 ],
 "resolve":{"axis":{"x":"independent","y":"independent"}}
},
{
 "width":463,"height":348,
 "layer":[
  {"data":{"name":"C"},"mark":{"type":"line","interpolate":"linear"},
   "encoding":{
    "x":{"field":"t","type":"quantitative","scale":{"domain":[0,90],"nice":false},"axis":{"orient":"bottom","values":[0,10,20,30,40,50,60,70,80,90],"tickSize":8,"labelPadding":12,"title":"Time (day)","titlePadding":12,"titleFontSize":30,"labelExpr":"toString(datum.value)"}},
    "y":{"field":"v","type":"quantitative","scale":{"domain":[-2,2],"nice":false},"axis":{"orient":"left","values":[-2,-1,0,1,2],"tickSize":8,"labelPadding":8,"labelExpr":"toString(datum.value)","title":null}},
    "color":{"field":"s","type":"nominal","scale":{"domain":["Egg","Larva","Pupa","Female","Male"],"range":["#000000","#1f7a34","#e8282b","#b05fc0","#3a4db5"]},"legend":null},
    "strokeDash":{"field":"s","type":"nominal","scale":{"domain":["Egg","Larva","Pupa","Female","Male"],"range":[[1,0],[9,4],[1,0],[2.5,3.5],[18,7]]},"legend":null},
    "strokeWidth":{"field":"s","type":"ordinal","scale":{"domain":["Egg","Larva","Pupa","Female","Male"],"range":[2.6,2.6,2.6,3.6,2.6]},"legend":null}
   }},
  {"data":{"values":[{"t":0,"v":0}]},"mark":{"type":"point","opacity":0},
   "encoding":{
    "x":{"field":"t","type":"quantitative","axis":{"orient":"bottom","values":[0,2,4,6,8,10,12,14,16,18,20,22,24,26,28,30,32,34,36,38,40,42,44,46,48,50,52,54,56,58,60,62,64,66,68,70,72,74,76,78,80,82,84,86,88,90],"tickSize":4,"labels":false,"domain":false,"title":null}},
    "y":{"field":"v","type":"quantitative","axis":{"orient":"left","values":[-2,-1.8,-1.6,-1.4,-1.2,-1,-0.8,-0.6,-0.4,-0.2,0,0.2,0.4,0.6,0.8,1,1.2,1.4,1.6,1.8,2],"tickSize":4,"labels":false,"domain":false,"title":null}}}},
  {"data":{"values":[{"t":0,"v":0}]},"mark":{"type":"point","opacity":0},
   "encoding":{"x":{"field":"t","type":"quantitative","axis":null},
    "y":{"field":"v","type":"quantitative","axis":{"orient":"right","values":[-2,-1,0,1,2],"tickSize":8,"labelPadding":10,"labelExpr":"toString(datum.value)","title":null}}}},
  {"data":{"values":[{"t":0,"v":0}]},"mark":{"type":"point","opacity":0},
   "encoding":{"x":{"field":"t","type":"quantitative","axis":null},
    "y":{"field":"v","type":"quantitative","axis":{"orient":"right","values":[-2,-1.8,-1.6,-1.4,-1.2,-1,-0.8,-0.6,-0.4,-0.2,0,0.2,0.4,0.6,0.8,1,1.2,1.4,1.6,1.8,2],"tickSize":4,"labels":false,"domain":false,"title":null}}}},
  {"data":{"values":[{"t":1.2,"v":1.63,"label":"C"}]},"mark":{"type":"text","font":"Liberation Serif","fontSize":27,"align":"left","baseline":"alphabetic","color":"#111"},
   "encoding":{"x":{"field":"t","type":"quantitative","axis":null},"y":{"field":"v","type":"quantitative","axis":null},"text":{"field":"label"}}},
  {"data":{"values":[{"t":85.8,"v":1.57,"label":"Frankliniella occidentalis"}]},"mark":{"type":"text","font":"Liberation Serif","fontSize":28,"fontStyle":"italic","align":"right","baseline":"alphabetic","color":"#111"},
   "encoding":{"x":{"field":"t","type":"quantitative","axis":null},"y":{"field":"v","type":"quantitative","axis":null},"text":{"field":"label"}}},
  {"data":{"values":[{"t":65.4,"v":0.99,"label":"r"}]},"mark":{"type":"text","font":"Liberation Serif","fontSize":26,"fontStyle":"italic","fontWeight":"bold","align":"right","baseline":"alphabetic","color":"#111"},
   "encoding":{"x":{"field":"t","type":"quantitative","axis":null},"y":{"field":"v","type":"quantitative","axis":null},"text":{"field":"label"}}},
  {"data":{"values":[{"t":66.4,"v":0.99,"label":"= 0.0785"}]},"mark":{"type":"text","font":"Liberation Serif","fontSize":26,"align":"left","baseline":"alphabetic","color":"#111"},
   "encoding":{"x":{"field":"t","type":"quantitative","axis":null},"y":{"field":"v","type":"quantitative","axis":null},"text":{"field":"label"}}}
 ],
 "resolve":{"axis":{"x":"independent","y":"independent"}}
},
{
 "width":463,"height":348,
 "layer":[
  {"data":{"name":"D"},"mark":{"type":"line","interpolate":"monotone"},
   "encoding":{
    "x":{"field":"t","type":"quantitative","scale":{"domain":[0,90],"nice":false},"axis":{"orient":"bottom","values":[0,10,20,30,40,50,60,70,80,90],"tickSize":8,"labelPadding":12,"title":"Time (day)","titlePadding":12,"titleFontSize":30,"titleFontWeight":"bold","labelExpr":"toString(datum.value)"}},
    "y":{"field":"v","type":"quantitative","scale":{"domain":[0,7],"nice":false},"axis":{"orient":"left","values":[0,1,2,3,4,5,6,7],"tickSize":8,"labelPadding":8,"labelExpr":"toString(datum.value)","title":null}},
    "color":{"field":"s","type":"nominal","scale":{"domain":["Egg","Larva","Pupa","Female","Male"],"range":["#000000","#1f7a34","#e8282b","#b05fc0","#3a4db5"]},"legend":null},
    "strokeDash":{"field":"s","type":"nominal","scale":{"domain":["Egg","Larva","Pupa","Female","Male"],"range":[[1,0],[9,4],[1,0],[2.5,3.5],[18,7]]},"legend":null},
    "strokeWidth":{"field":"s","type":"ordinal","scale":{"domain":["Egg","Larva","Pupa","Female","Male"],"range":[2.6,2.6,2.6,3.6,2.6]},"legend":null}
   }},
  {"data":{"name":"legD"},"mark":{"type":"rule"},
   "encoding":{
    "x":{"datum":56.2,"type":"quantitative","axis":null},"x2":{"datum":68.7},
    "y":{"field":"v","type":"quantitative","axis":null},
    "color":{"field":"s","type":"nominal","legend":null},
    "strokeDash":{"field":"s","type":"nominal","legend":null},
    "strokeWidth":{"field":"s","type":"ordinal","legend":null}
   }},
  {"data":{"name":"legD"},"mark":{"type":"text","font":"Liberation Serif","fontSize":23,"align":"left","baseline":"middle","color":"#111"},
   "encoding":{"x":{"datum":71.7,"type":"quantitative","axis":null},"y":{"field":"v","type":"quantitative","axis":null},"text":{"field":"s"}}},
  {"data":{"values":[{"t":0,"v":0}]},"mark":{"type":"point","opacity":0},
   "encoding":{
    "x":{"field":"t","type":"quantitative","axis":{"orient":"bottom","values":[0,2,4,6,8,10,12,14,16,18,20,22,24,26,28,30,32,34,36,38,40,42,44,46,48,50,52,54,56,58,60,62,64,66,68,70,72,74,76,78,80,82,84,86,88,90],"tickSize":4,"labels":false,"domain":false,"title":null}},
    "y":{"field":"v","type":"quantitative","axis":{"orient":"left","values":[0,0.2,0.4,0.6,0.8,1,1.2,1.4,1.6,1.8,2,2.2,2.4,2.6,2.8,3,3.2,3.4,3.6,3.8,4,4.2,4.4,4.6,4.8,5,5.2,5.4,5.6,5.8,6,6.2,6.4,6.6,6.8,7],"tickSize":4,"labels":false,"domain":false,"title":null}}}},
  {"data":{"values":[{"t":0,"v":0}]},"mark":{"type":"point","opacity":0},
   "encoding":{"x":{"field":"t","type":"quantitative","axis":null},
    "y":{"field":"v","type":"quantitative","axis":{"orient":"right","values":[0,1,2,3,4,5,6,7],"tickSize":8,"labelPadding":10,"labelExpr":"toString(datum.value)","title":null}}}},
  {"data":{"values":[{"t":0,"v":0}]},"mark":{"type":"point","opacity":0},
   "encoding":{"x":{"field":"t","type":"quantitative","axis":null},
    "y":{"field":"v","type":"quantitative","axis":{"orient":"right","values":[0,0.2,0.4,0.6,0.8,1,1.2,1.4,1.6,1.8,2,2.2,2.4,2.6,2.8,3,3.2,3.4,3.6,3.8,4,4.2,4.4,4.6,4.8,5,5.2,5.4,5.6,5.8,6,6.2,6.4,6.6,6.8,7],"tickSize":4,"labels":false,"domain":false,"title":null}}}},
  {"data":{"values":[{"t":2.5,"v":6.31,"label":"D"}]},"mark":{"type":"text","font":"Liberation Serif","fontSize":27,"align":"left","baseline":"alphabetic","color":"#111"},
   "encoding":{"x":{"field":"t","type":"quantitative","axis":null},"y":{"field":"v","type":"quantitative","axis":null},"text":{"field":"label"}}},
  {"data":{"values":[{"t":87,"v":6.24,"label":"Frankliniella occidentalis"}]},"mark":{"type":"text","font":"Liberation Serif","fontSize":28,"fontStyle":"italic","align":"right","baseline":"alphabetic","color":"#111"},
   "encoding":{"x":{"field":"t","type":"quantitative","axis":null},"y":{"field":"v","type":"quantitative","axis":null},"text":{"field":"label"}}}
 ],
 "resolve":{"axis":{"x":"independent","y":"independent"}}
}
]
}
